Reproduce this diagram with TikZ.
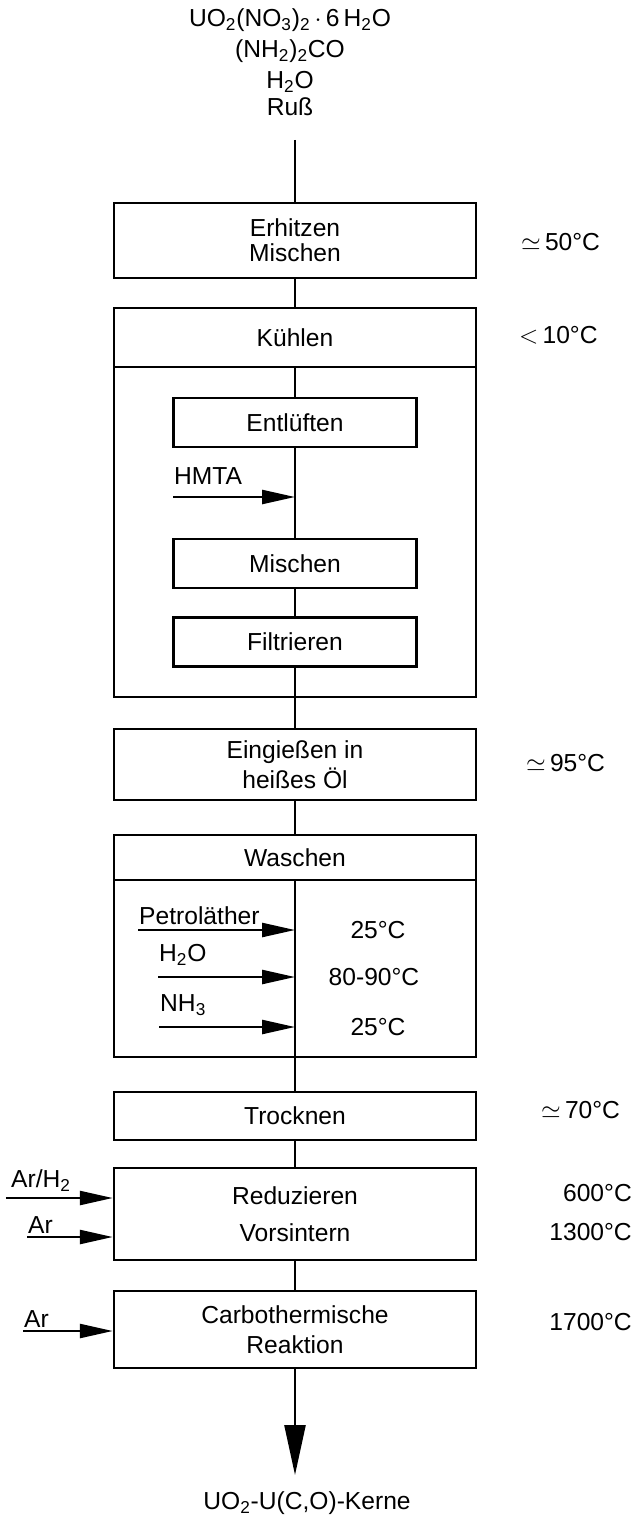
\documentclass[tikz,border=0pt]{standalone}
\usepackage{fontspec}
\setmainfont{Liberation Sans}
\usetikzlibrary{arrows.meta}

\begin{document}
\begin{tikzpicture}[
  font=\fontsize{14}{16}\selectfont,
  line width=1.4pt,
  kasten/.style={draw, minimum width=7.24cm, align=center, inner sep=0pt},
  innen/.style={draw, minimum width=4.86cm, minimum height=0.98cm, inner sep=0pt},
  zufuhr/.style={-{Triangle[length=0.66cm,width=0.28cm]}},
  stoff/.style={anchor=south west, inner sep=0pt},
  temp/.style={anchor=west, inner sep=0pt}
]
\useasboundingbox (0,0) rectangle (12.76,-30.4);

% Ausgangsstoffe
\node[align=center, font=\fontsize{14}{17.5}\selectfont] (feed) at (5.8,-1.25)
  {UO\textsubscript{2}(NO\textsubscript{3})\textsubscript{2}\,$\cdot$\,6\,H\textsubscript{2}O\\
   (NH\textsubscript{2})\textsubscript{2}CO\\ H\textsubscript{2}O\\[-2pt] Ruß};
\coordinate (zulauf) at (5.9,-2.8);

% Hauptstrang
\node[kasten, minimum height=1.5cm] (erhitzen) at (5.9,-4.81) {Erhitzen\\[-2pt]Mischen};
\node[kasten, minimum height=7.78cm] (kuehlbox) at (5.9,-10.05) {};
\node[kasten, minimum height=1.18cm, anchor=north] (kuehlen) at (kuehlbox.north) {Kühlen};
\node[innen] (entlueften) at (5.9,-8.45) {Entlüften};
\node[innen] (mischen) at (5.9,-11.27) {Mischen};
\node[innen] (filtrieren) at (5.9,-12.84) {Filtrieren};
\node[kasten, minimum height=1.42cm] (eingiessen) at (5.9,-15.29) {Eingießen in\\[1pt]heißes Öl};
\node[kasten, minimum height=4.44cm] (waschbox) at (5.9,-18.92) {};
\node[kasten, minimum height=0.9cm, anchor=north] (waschen) at (waschbox.north) {Waschen};
\node[kasten, minimum height=0.96cm] (trocknen) at (5.9,-22.32) {Trocknen};
\node[kasten, minimum height=1.84cm] (reduzieren) at (5.9,-24.28) {Reduzieren\\[5pt]Vorsintern};
\node[kasten, minimum height=1.54cm] (carbo) at (5.9,-26.59) {Carbothermische\\[1pt]Reaktion};
\coordinate (ende) at (5.9,-29.5);
\node (produkt) at (6.14,-30.06) {UO\textsubscript{2}-U(C,O)-Kerne};

\draw (zulauf) -- (erhitzen);
\draw (erhitzen) -- (kuehlen);
\draw (kuehlen) -- (entlueften);
\draw (entlueften) -- (mischen);
\draw (mischen) -- (filtrieren);
\draw (filtrieren) -- (eingiessen);
\draw (eingiessen) -- (waschen);
\draw (waschen) -- (trocknen);
\draw (trocknen) -- (reduzieren);
\draw (reduzieren) -- (carbo);
\draw[-{Triangle[length=1cm,width=0.42cm]}] (carbo) -- (ende);

% Zugaben
\coordinate (hmta) at (3.46,-9.94);
\node[stoff] (hmtatext) at ([yshift=0.22cm]hmta) {HMTA};
\draw[zufuhr] (hmta) -- (hmta -| mischen);

\coordinate (petrol) at (2.76,-18.6);
\coordinate (wasser) at (3.16,-19.54);
\coordinate (ammoniak) at (3.18,-20.54);
\node[stoff] (petroltext) at ([yshift=0.08cm]petrol) {Petroläther};
\node[stoff] (wassertext) at ([yshift=0.2cm]wasser) {H\textsubscript{2}O};
\node[stoff] (ammoniaktext) at ([yshift=0.2cm]ammoniak) {NH\textsubscript{3}};
\draw[zufuhr] (petrol) -- (petrol -| waschen);
\draw[zufuhr] (wasser) -- (wasser -| waschen);
\draw[zufuhr] (ammoniak) -- (ammoniak -| waschen);
\node (t1) at (7.56,-18.6) {25°C};
\node (t2) at (7.48,-19.54) {80-90°C};
\node (t3) at (7.56,-20.54) {25°C};

\coordinate (arh) at (0.12,-23.96);
\coordinate (ara) at (0.54,-24.74);
\coordinate (arb) at (0.46,-26.62);
\node[stoff] (arhtext) at ([xshift=0.08cm,yshift=0.1cm]arh) {Ar/H\textsubscript{2}};
\node[stoff] (aratext) at ([yshift=0.05cm]ara) {Ar};
\node[stoff] (arbtext) at ([yshift=0.05cm]arb) {Ar};
\draw[zufuhr] (arh) -- (arh -| reduzieren.west);
\draw[zufuhr] (ara) -- (ara -| reduzieren.west);
\draw[zufuhr] (arb) -- (arb -| carbo.west);

% Temperaturen
\node[temp] (temp1) at (10.4,-4.84) {$\simeq$\,50°C};
\node[temp] (temp2) at (10.36,-6.7) {$<$\,10°C};
\node[temp] (temp3) at (10.5,-15.26) {$\simeq$\,95°C};
\node[temp] (temp4) at (10.8,-22.2) {$\simeq$\,70°C};
\node[temp, anchor=east] (temp5) at (12.66,-23.86) {600°C};
\node[temp, anchor=east] (temp6) at (12.66,-24.64) {1300°C};
\node[temp, anchor=east] (temp7) at (12.66,-26.44) {1700°C};
\end{tikzpicture}
\end{document}
